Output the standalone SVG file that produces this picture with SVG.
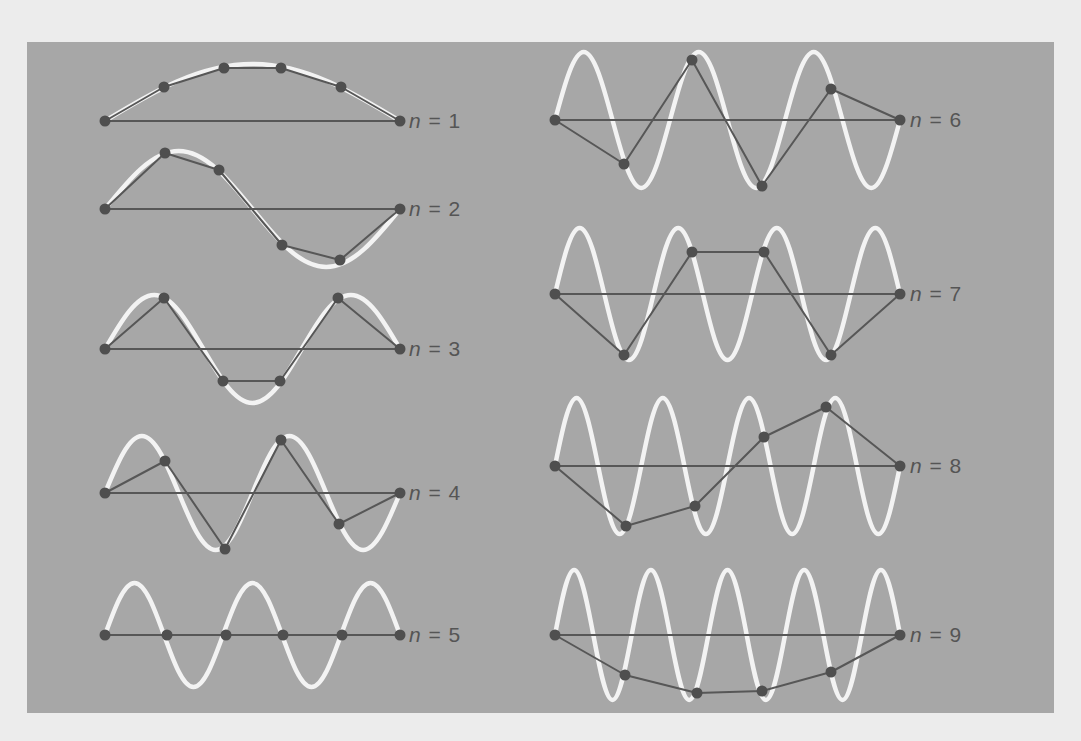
<svg xmlns="http://www.w3.org/2000/svg" width="1081" height="741" viewBox="0 0 1081 741">
<style>
.wave{fill:none;stroke:#f3f3f3;stroke-width:4.5;stroke-linecap:round}
.ln{fill:none;stroke:#575757;stroke-width:2;stroke-linejoin:round}
.dot{fill:#4f4f4f}
.lbl{font-family:"Liberation Sans",Arial,sans-serif;font-size:21px;fill:#555;word-spacing:2px}
.it{font-style:italic}
</style>
<rect x="0" y="0" width="1081" height="741" fill="#ececec"/>
<rect x="27" y="42" width="1027" height="671" fill="#a7a7a7"/>

<defs>
<circle id="d" r="5.5" class="dot"/>
</defs>

<g id="n1">
<path class="wave" d="M105,121 c48.1,-29.2 94.36,-57 147.5,-57 c53.14,0 99.4,27.8 147.5,57"/>
<g class="connectors">
<line class="ln" x1="105" y1="121" x2="400" y2="121"/>
<polyline class="ln" points="105,121 164,87 224,68 281,68 341,87 400,121"/>
</g>
<use href="#d" x="105" y="121"/><use href="#d" x="164" y="87"/><use href="#d" x="224" y="68"/><use href="#d" x="281" y="68"/><use href="#d" x="341" y="87"/><use href="#d" x="400" y="121"/>
<text class="lbl" x="409" y="128"><tspan class="it">n</tspan> = 1</text>
</g>

<g id="n2">
<path class="wave" d="M105,209 c24.05,-29.71 47.18,-58 73.75,-58 c26.57,0 49.7,28.290 73.75,58 c24.05,29.71 47.18,58 73.75,58 c26.57,0 49.7,-28.29 73.75,-58"/>
<g class="connectors">
<line class="ln" x1="105" y1="209" x2="400" y2="209"/>
<polyline class="ln" points="105,209 165,153 219,170 282,245 340,260 400,209"/>
</g>
<use href="#d" x="105" y="209"/><use href="#d" x="165" y="153"/><use href="#d" x="219" y="170"/><use href="#d" x="282" y="245"/><use href="#d" x="340" y="260"/><use href="#d" x="400" y="209"/>
<text class="lbl" x="409" y="216"><tspan class="it">n</tspan> = 2</text>
</g>

<g id="n3">
<path class="wave" d="M105,349 c16.03,-27.66 31.45,-54 49.17,-54 c17.72,0 33.14,26.34 49.17,54 c16.03,27.66 31.45,54 49.17,54 c17.72,0 33.14,-26.34 49.17,-54 c16.03,-27.66 31.45,-54 49.17,-54 c17.72,0 33.14,26.34 49.17,54"/>
<g class="connectors">
<line class="ln" x1="105" y1="349" x2="400" y2="349"/>
<polyline class="ln" points="105,349 164,298 223,381 280,381 338,298 400,349"/>
</g>
<use href="#d" x="105" y="349"/><use href="#d" x="164" y="298"/><use href="#d" x="223" y="381"/><use href="#d" x="280" y="381"/><use href="#d" x="338" y="298"/><use href="#d" x="400" y="349"/>
<text class="lbl" x="409" y="356"><tspan class="it">n</tspan> = 3</text>
</g>

<g id="n4">
<path class="wave" d="M105,493 c12.02,-29.2 23.59,-57 36.875,-57 c13.29,0 24.85,27.8 36.875,57 c12.02,29.2 23.59,57 36.875,57 c13.29,0 24.85,-27.8 36.875,-57 c12.02,-29.2 23.59,-57 36.875,-57 c13.29,0 24.85,27.8 36.875,57 c12.02,29.2 23.59,57 36.875,57 c13.29,0 24.85,-27.8 36.875,-57"/>
<g class="connectors">
<line class="ln" x1="105" y1="493" x2="400" y2="493"/>
<polyline class="ln" points="105,493 165,461 225,549 281,440 339,524 400,493"/>
</g>
<use href="#d" x="105" y="493"/><use href="#d" x="165" y="461"/><use href="#d" x="225" y="549"/><use href="#d" x="281" y="440"/><use href="#d" x="339" y="524"/><use href="#d" x="400" y="493"/>
<text class="lbl" x="409" y="500"><tspan class="it">n</tspan> = 4</text>
</g>

<g id="n5">
<path class="wave" d="M105,635 c9.62,-26.64 18.87,-52 29.5,-52 c10.63,0 19.88,25.36 29.5,52 c9.62,26.64 18.87,52 29.5,52 c10.63,0 19.88,-25.36 29.5,-52 c9.62,-26.64 18.87,-52 29.5,-52 c10.63,0 19.88,25.36 29.5,52 c9.62,26.64 18.87,52 29.5,52 c10.63,0 19.88,-25.36 29.5,-52 c9.62,-26.64 18.87,-52 29.5,-52 c10.63,0 19.88,25.36 29.5,52"/>
<g class="connectors">
<line class="ln" x1="105" y1="635" x2="400" y2="635"/>
</g>
<use href="#d" x="105" y="635"/><use href="#d" x="167" y="635"/><use href="#d" x="226" y="635"/><use href="#d" x="283" y="635"/><use href="#d" x="342" y="635"/><use href="#d" x="400" y="635"/>
<text class="lbl" x="409" y="642"><tspan class="it">n</tspan> = 5</text>
</g>

<g id="n6">
<path class="wave" d="M555,120 c9.38,-34.84 18.39,-68 28.75,-68 c10.36,0 19.37,33.16 28.75,68 c9.38,34.84 18.39,68 28.75,68 c10.36,0 19.37,-33.16 28.75,-68 c9.38,-34.84 18.39,-68 28.75,-68 c10.36,0 19.37,33.16 28.75,68 c9.38,34.84 18.39,68 28.75,68 c10.36,0 19.37,-33.16 28.75,-68 c9.38,-34.84 18.39,-68 28.75,-68 c10.36,0 19.37,33.16 28.75,68 c9.38,34.84 18.39,68 28.75,68 c10.36,0 19.37,-33.16 28.75,-68"/>
<g class="connectors">
<line class="ln" x1="555" y1="120" x2="900" y2="120"/>
<polyline class="ln" points="555,120 624,164 692,60 762,186 831,89 900,120"/>
</g>
<use href="#d" x="555" y="120"/><use href="#d" x="624" y="164"/><use href="#d" x="692" y="60"/><use href="#d" x="762" y="186"/><use href="#d" x="831" y="89"/><use href="#d" x="900" y="120"/>
<text class="lbl" x="910" y="127"><tspan class="it">n</tspan> = 6</text>
</g>

<g id="n7">
<path class="wave" d="M555,294 c8.04,-33.81 15.76,-66 24.64,-66 c8.88,0 16.61,32.19 24.64,66 c8.04,33.81 15.76,66 24.64,66 c8.88,0 16.61,-32.19 24.64,-66 c8.04,-33.81 15.76,-66 24.64,-66 c8.88,0 16.61,32.19 24.64,66 c8.04,33.81 15.76,66 24.64,66 c8.88,0 16.61,-32.19 24.64,-66 c8.04,-33.81 15.76,-66 24.64,-66 c8.88,0 16.61,32.19 24.64,66 c8.04,33.81 15.76,66 24.64,66 c8.88,0 16.61,-32.19 24.64,-66 c8.04,-33.81 15.76,-66 24.64,-66 c8.88,0 16.61,32.19 24.64,66"/>
<g class="connectors">
<line class="ln" x1="555" y1="294" x2="900" y2="294"/>
<polyline class="ln" points="555,294 624,355 692,252 764,252 831,355 900,294"/>
</g>
<use href="#d" x="555" y="294"/><use href="#d" x="624" y="355"/><use href="#d" x="692" y="252"/><use href="#d" x="764" y="252"/><use href="#d" x="831" y="355"/><use href="#d" x="900" y="294"/>
<text class="lbl" x="910" y="301"><tspan class="it">n</tspan> = 7</text>
</g>

<g id="n8">
<path class="wave" d="M555,466 c7.03,-34.84 13.79,-68 21.56,-68 c7.77,0 14.53,33.16 21.56,68 c7.03,34.84 13.79,68 21.56,68 c7.77,0 14.53,-33.16 21.56,-68 c7.03,-34.84 13.79,-68 21.56,-68 c7.77,0 14.53,33.16 21.56,68 c7.03,34.84 13.79,68 21.56,68 c7.77,0 14.53,-33.16 21.56,-68 c7.03,-34.84 13.79,-68 21.56,-68 c7.77,0 14.53,33.16 21.56,68 c7.03,34.84 13.79,68 21.56,68 c7.77,0 14.53,-33.16 21.56,-68 c7.03,-34.84 13.79,-68 21.56,-68 c7.77,0 14.53,33.16 21.56,68 c7.03,34.84 13.79,68 21.56,68 c7.77,0 14.53,-33.16 21.56,-68"/>
<g class="connectors">
<line class="ln" x1="555" y1="466" x2="900" y2="466"/>
<polyline class="ln" points="555,466 626,526 695,506 764,437 826,407 900,466"/>
</g>
<use href="#d" x="555" y="466"/><use href="#d" x="626" y="526"/><use href="#d" x="695" y="506"/><use href="#d" x="764" y="437"/><use href="#d" x="826" y="407"/><use href="#d" x="900" y="466"/>
<text class="lbl" x="910" y="473"><tspan class="it">n</tspan> = 8</text>
</g>

<g id="n9">
<path class="wave" d="M555,635 c6.25,-33.3 12.26,-65 19.17,-65 c6.91,0 12.92,31.7 19.17,65 c6.25,33.3 12.26,65 19.17,65 c6.91,0 12.92,-31.7 19.17,-65 c6.25,-33.3 12.26,-65 19.17,-65 c6.91,0 12.92,31.7 19.17,65 c6.25,33.3 12.26,65 19.17,65 c6.91,0 12.92,-31.7 19.17,-65 c6.25,-33.3 12.26,-65 19.17,-65 c6.91,0 12.92,31.7 19.17,65 c6.25,33.3 12.26,65 19.17,65 c6.91,0 12.92,-31.7 19.17,-65 c6.25,-33.3 12.26,-65 19.17,-65 c6.91,0 12.92,31.7 19.17,65 c6.25,33.3 12.26,65 19.17,65 c6.91,0 12.92,-31.7 19.17,-65 c6.25,-33.3 12.26,-65 19.17,-65 c6.91,0 12.92,31.7 19.17,65"/>
<g class="connectors">
<line class="ln" x1="555" y1="635" x2="900" y2="635"/>
<polyline class="ln" points="555,635 625,675 697,693 762,691 831,672 900,635"/>
</g>
<use href="#d" x="555" y="635"/><use href="#d" x="625" y="675"/><use href="#d" x="697" y="693"/><use href="#d" x="762" y="691"/><use href="#d" x="831" y="672"/><use href="#d" x="900" y="635"/>
<text class="lbl" x="910" y="642"><tspan class="it">n</tspan> = 9</text>
</g>
</svg>
